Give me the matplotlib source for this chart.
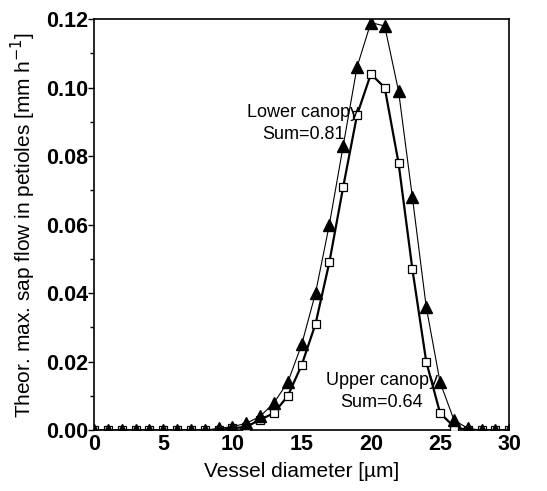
import numpy as np
import matplotlib.pyplot as plt
from matplotlib.ticker import MultipleLocator

plt.rcParams['font.family'] = ['Liberation Sans', 'DejaVu Sans']

diameter = list(range(0, 31))
# lower canopy (filled triangles), Sum=0.81
lower = [0, 0, 0, 0, 0, 0, 0, 0, 0, 0.0005, 0.001, 0.002, 0.004, 0.008, 0.014,
         0.025, 0.040, 0.060, 0.083, 0.106, 0.119, 0.118, 0.099, 0.068, 0.036,
         0.014, 0.003, 0.0005, 0, 0, 0]
# upper canopy (open squares), Sum=0.64
upper = [0, 0, 0, 0, 0, 0, 0, 0, 0, 0, 0.0005, 0.001, 0.003, 0.005, 0.010,
         0.019, 0.031, 0.049, 0.071, 0.092, 0.104, 0.100, 0.078, 0.047, 0.020,
         0.005, 0.001, 0, 0, 0, 0]

fig = plt.figure(figsize=(5.47, 4.91), dpi=100)
ax = fig.add_axes([0.172, 0.124, 0.759, 0.837])

ax.plot(diameter, upper, color='black', lw=1.6, marker='s', ms=6,
        mfc='white', mec='black', mew=0.9, zorder=3)
ax.plot(diameter, lower, color='black', lw=0.8, marker='^', ms=8.5,
        mfc='black', mec='black', zorder=4)

ax.text(15.1, 0.0895, "Lower canopy\nSum=0.81", ha='center', va='center',
        fontsize=13, linespacing=1.35, zorder=6)
ax.text(20.8, 0.0112, "Upper canopy\nSum=0.64", ha='center', va='center',
        fontsize=13, linespacing=1.35, zorder=6)

ax.set_xlim(0, 30)
ax.set_ylim(0, 0.12)
ax.set_xticks([0, 5, 10, 15, 20, 25, 30])
ax.set_yticks([0, 0.02, 0.04, 0.06, 0.08, 0.10, 0.12])
ax.set_yticklabels(['0.00', '0.02', '0.04', '0.06', '0.08', '0.10', '0.12'])
ax.yaxis.set_minor_locator(MultipleLocator(0.01))
ax.tick_params(axis='x', length=0, pad=3, labelsize=15.5)
ax.tick_params(axis='y', which='major', length=4, width=1, pad=0, labelsize=15.5)
ax.tick_params(axis='y', which='minor', length=3, width=1)
for lab in ax.get_yticklabels() + ax.get_xticklabels():
    lab.set_fontweight('bold')
for s in ax.spines.values():
    s.set_linewidth(1.2)

ax.set_xlabel("Vessel diameter [µm]", fontsize=15, labelpad=5)
ax.set_ylabel("Theor. max. sap flow in petioles [mm h$^{-1}$]", fontsize=15, labelpad=6)

fig.savefig("out.png", dpi=100)
